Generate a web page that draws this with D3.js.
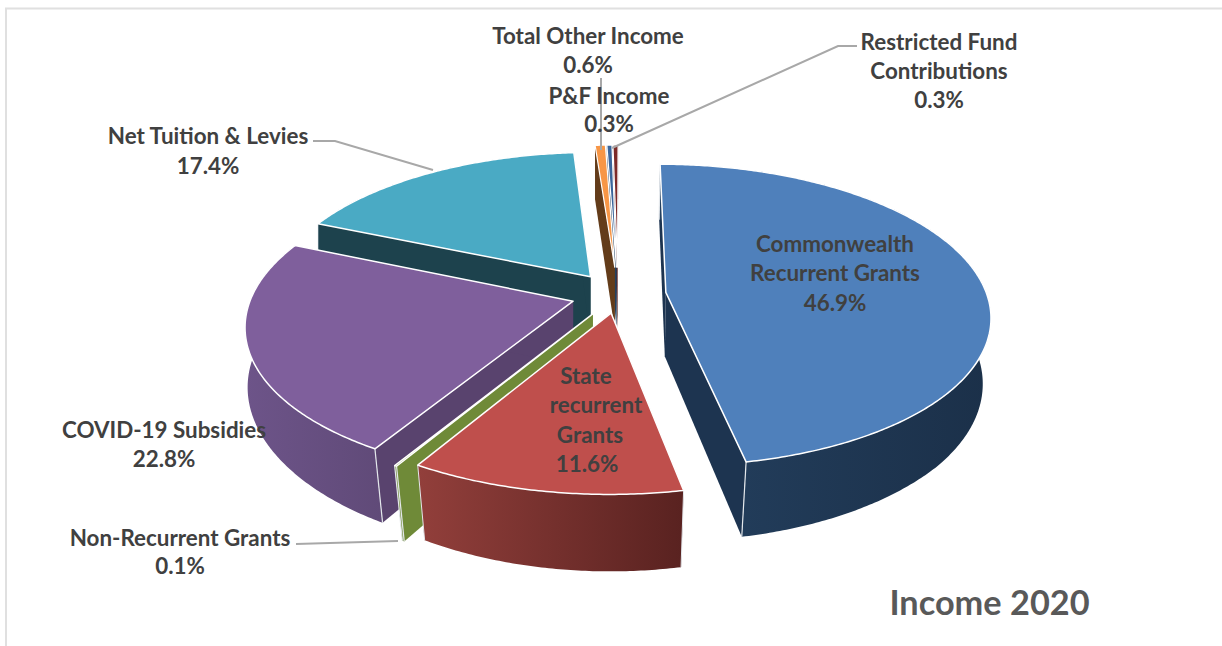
<!DOCTYPE html>
<html>
<head>
<meta charset="utf-8">
<script src="https://cdn.jsdelivr.net/npm/d3@7"></script>
<style>
  html, body { margin: 0; padding: 0; background: #fff; }
  text { font-family: Lato, "Open Sans", sans-serif; font-weight: 700; }
</style>
</head>
<body>
<svg id="chart" width="1222" height="646"></svg>
<script>
// Income shares for 2020, clockwise from the top of the pie
const categories = ["Commonwealth Recurrent Grants", "State recurrent Grants", "Non-Recurrent Grants",
  "COVID-19 Subsidies", "Net Tuition & Levies", "Total Other Income", "P&F Income", "Restricted Fund Contributions"];
const shares = [46.9, 11.6, 0.1, 22.8, 17.4, 0.6, 0.3, 0.3];

const topColors  = ["#4f80bb", "#bf4f4c", "#7b953e", "#7f5f9c", "#4aaac4", "#f79646", "#3a659b", "#7c2a28"];
const flatWalls  = ["#1d3450", "#7a2e2b", "#6f8a38", "#59436e", "#1d424d", "#633c1a", "#24405f", "#5a1f1d"];
const rimLeft    = ["#24405f", "#923f3b", "#6f8a38", "#6d5489", "#1d424d", "#633c1a", "#24405f", "#5a1f1d"];
const rimRight   = ["#1b3049", "#592220", "#6f8a38", "#604a78", "#1d424d", "#633c1a", "#24405f", "#5a1f1d"];
const faceEdges  = [1.5, 1.5, 1.4, 1.5, 1.5, 1.2, 1.2, 1.2];
const seamEdges  = [1.2, 1, 1.2, 1.2, 0.6, 0, 0, 0];

// How far each slice is pulled out of the pie, as a fraction of the radius
const pullOut = [0.15, 0.125, 0.15, 0.146, 0.15, 0.19, 0.19, 0.19];
// Painting order, far slices first
const paintOrder = [4, 7, 6, 5, 3, 0, 2, 1];

const labelBlocks = [
  { lines: [["Commonwealth", 835, 244], ["Recurrent Grants", 835, 273], ["46.9%", 835, 303]] },
  { lines: [["State", 586, 376], ["recurrent", 596, 405], ["Grants", 590, 435], ["11.6%", 587, 464]] },
  { lines: [["Non-Recurrent Grants", 180, 538], ["0.1%", 180, 566]] },
  { lines: [["COVID-19 Subsidies", 164, 430], ["22.8%", 164, 459]] },
  { lines: [["Net Tuition & Levies", 208, 136], ["17.4%", 208, 166]] },
  { lines: [["Total Other Income", 588, 36], ["0.6%", 588, 65]] },
  { lines: [["P&F Income", 609, 96], ["0.3%", 609, 124]] },
  { lines: [["Restricted Fund", 939, 42], ["Contributions", 939, 71], ["0.3%", 939, 100]] }
];

const leaders = [
  [[313, 141], [335, 141], [433, 170]],
  [[601, 78], [601, 150]],
  [[857, 46], [838, 46], [612, 148]],
  [[296, 544], [398, 541]]
];

const svg = d3.select("#chart");
const defs = svg.append("defs");

// Frame along the top and left edges
svg.append("path")
  .attr("d", "M6,646V8.5H1222")
  .attr("fill", "none").attr("stroke", "#e0e0e0").attr("stroke-width", 2);

// Ground-plane to screen projection with a mild perspective;
// the extrusion leans inwards on the near side and along the right flank
const radiusX = 321, radiusY = 148, depth = 64, perspective = 0.15, taper = 0.035, rightLean = 0.022;
const scaleX = d3.scaleLinear().domain([0, 1]).range([618, 618 + radiusX]);
const scaleY = d3.scaleLinear().domain([0, 1]).range([294.5, 294.5 - radiusY]);

function project(u, v, z) {
  const s = 1 / (1 + perspective * v);
  const x0 = scaleX(u * s);
  const lean = Math.max(taper * Math.max(0, -v), u > 0 ? rightLean : 0) * z;
  const x = scaleX(0) + (x0 - scaleX(0)) * (1 - lean);
  return [x, scaleY(v * s) + depth * s * z];
}

const pie = d3.pie().sort(null).value(d => d)
  .startAngle(0.1 * Math.PI / 180)
  .endAngle((360 + 0.1) * Math.PI / 180);
const arcs = pie(shares);
const line = d3.line().curve(d3.curveLinear);

function geometry(i) {
  const a = arcs[i], mid = (a.startAngle + a.endAngle) / 2, e = pullOut[i];
  const ox = e * Math.sin(mid), oy = e * Math.cos(mid);
  const n = Math.max(2, Math.ceil((a.endAngle - a.startAngle) / 0.01));
  const rim = d3.range(n + 1).map(k => {
    const t = a.startAngle + (a.endAngle - a.startAngle) * k / n;
    return [ox + Math.sin(t), oy + Math.cos(t)];
  });
  return { apex: [ox, oy], rim };
}

paintOrder.forEach(i => {
  const g = svg.append("g").attr("class", "slice");
  const { apex, rim } = geometry(i);
  const at = (p, z) => project(p[0], p[1], z);
  const ends = [rim[0], rim[rim.length - 1]];

  // Straight cut faces on each side of the slice
  ends.forEach(p => {
    g.append("path")
      .attr("d", line([at(apex, 0), at(p, 0), at(p, 1), at(apex, 1)]) + "Z")
      .attr("fill", flatWalls[i]);
  });

  // Curved outer wall, shaded from side to side
  const gradId = "rim-" + i;
  const grad = defs.append("linearGradient").attr("id", gradId);
  grad.append("stop").attr("offset", "0%").attr("stop-color", rimLeft[i]);
  grad.append("stop").attr("offset", "100%").attr("stop-color", rimRight[i]);
  const wall = rim.map(p => at(p, 0)).concat(rim.slice().reverse().map(p => at(p, 1)));
  g.append("path")
    .attr("d", line(wall) + "Z")
    .attr("fill", `url(#${gradId})`);

  // Pale seams where the cut faces meet the outer wall
  if (seamEdges[i] > 0) {
    ends.forEach(p => {
      g.append("path")
        .attr("d", line([at(p, 0), at(p, 1)]))
        .attr("fill", "none")
        .attr("stroke", "#e4e8ec").attr("stroke-width", seamEdges[i]);
    });
  }

  // Top face
  const face = [at(apex, 0)].concat(rim.map(p => at(p, 0)));
  g.append("path")
    .attr("d", line(face) + "Z")
    .attr("fill", topColors[i])
    .attr("stroke", "#ffffff").attr("stroke-width", faceEdges[i]).attr("stroke-linejoin", "round");
});

// Leader lines
svg.append("g").selectAll("path").data(leaders).join("path")
  .attr("d", d => line(d))
  .attr("fill", "none").attr("stroke", "#a8a8a8").attr("stroke-width", 2);

// Data labels
labelBlocks.forEach(block => {
  svg.append("g").selectAll("text").data(block.lines).join("text")
    .attr("x", d => d[1]).attr("y", d => d[2])
    .attr("dy", "0.35em")
    .attr("text-anchor", "middle")
    .attr("font-size", 22.4)
    .attr("fill", "#404040")
    .text(d => d[0]);
});

svg.append("text")
  .attr("x", 989.5).attr("y", 603).attr("dy", "0.35em")
  .attr("text-anchor", "middle")
  .attr("font-size", 34.3)
  .attr("fill", "#595959")
  .text("Income 2020");
</script>
</body>
</html>
